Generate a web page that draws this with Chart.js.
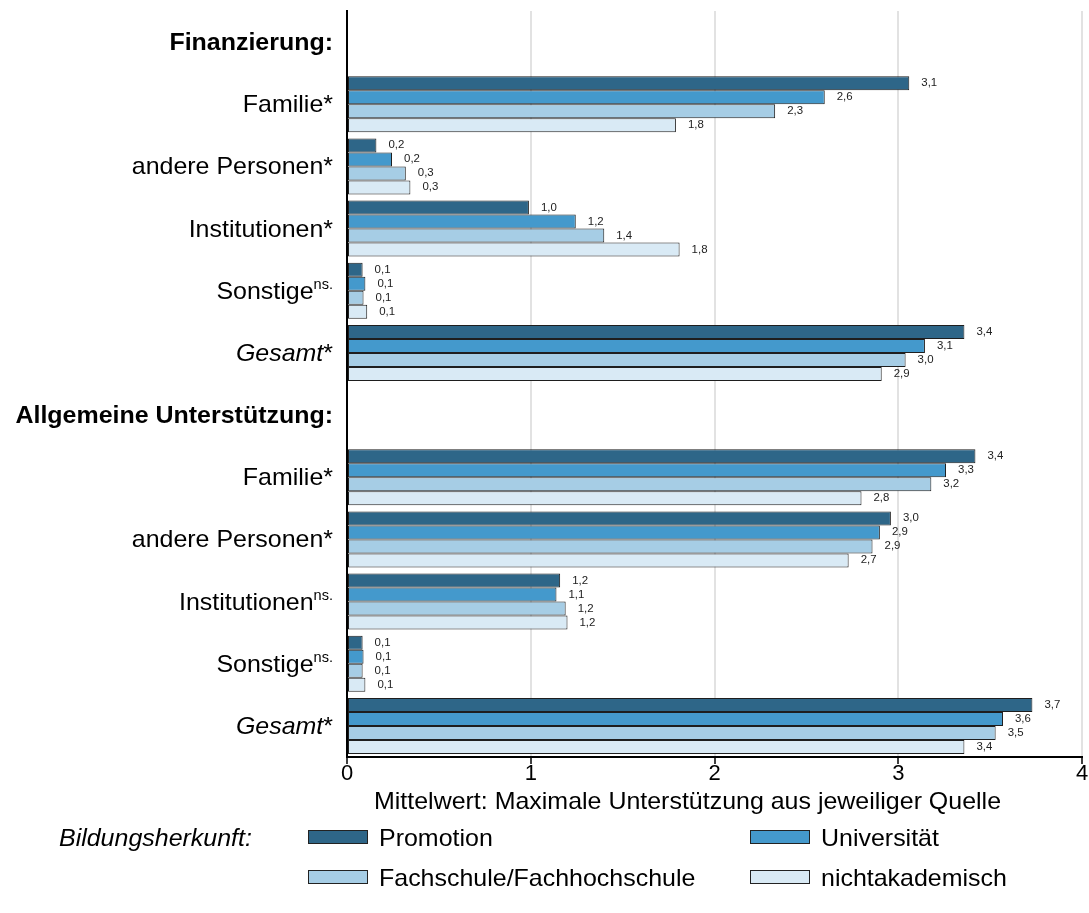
<!DOCTYPE html>
<html>
<head>
<meta charset="utf-8">
<script src="https://cdn.jsdelivr.net/npm/chart.js@4/dist/chart.umd.min.js"></script>
<style>
  body { margin: 0; background: #fff; }
</style>
</head>
<body>
<canvas id="chrt" width="1089" height="913"></canvas>
<script>
// categories (a trailing ':' = group header, '^' = superscript part)
var categories = ['Finanzierung:', 'Familie*', 'andere Personen*', 'Institutionen*', 'Sonstige^ns.', 'Gesamt*',
                  'Allgemeine Unterstützung:', 'Familie*', 'andere Personen*', 'Institutionen^ns.', 'Sonstige^ns.', 'Gesamt*'];

var seriesNames = ['Promotion', 'Universität', 'Fachschule/Fachhochschule', 'nichtakademisch'];

var promotion    = [null, 3.06, 0.16, 0.99, 0.085, 3.36, null, 3.42, 2.96, 1.16, 0.085, 3.73];
var universitaet = [null, 2.60, 0.245, 1.245, 0.10, 3.145, null, 3.26, 2.90, 1.14, 0.09, 3.57];
var fachschule   = [null, 2.33, 0.32, 1.40, 0.09, 3.04, null, 3.18, 2.86, 1.19, 0.085, 3.53];
var nichtakad    = [null, 1.79, 0.345, 1.81, 0.11, 2.91, null, 2.80, 2.73, 1.20, 0.10, 3.36];

var xTicks = [0, 1, 2, 3, 4];

var colors = ['#2e6688', '#4499cc', '#a6cde5', '#d9eaf5'];

var SX = 1.04; // text in the picture is a little wider than normal
var FONT = '"Liberation Sans", Arial, sans-serif';

function stretchText(ctx, txt, x, y) {
    ctx.save();
    ctx.translate(x, y);
    ctx.scale(SX, 1);
    ctx.fillText(txt, 0, 0);
    ctx.restore();
}

// y labels, value labels, axis title and legend
var drawExtras = {
    id: 'drawExtras',
    afterDatasetsDraw: function(chart) {
        var ctx = chart.ctx;
        var yScale = chart.scales.y;
        ctx.save();
        ctx.fillStyle = '#000';
        ctx.textBaseline = 'alphabetic';

        // category labels
        for (var i = 0; i < categories.length; i++) {
            var lab = categories[i];
            var y = yScale.getPixelForValue(i) + 8;
            var parts = [];
            if (lab.slice(-1) == ':') {
                parts.push({t: lab, f: 'bold 24px ' + FONT, dy: 0});
            } else if (lab.indexOf('^') >= 0) {
                var p = lab.split('^');
                parts.push({t: p[0], f: '24px ' + FONT, dy: 0});
                parts.push({t: p[1], f: '14px ' + FONT, dy: -10});
            } else if (lab.indexOf('Gesamt') == 0) {
                parts.push({t: 'Gesamt', f: 'italic 24px ' + FONT, dy: 0});
                parts.push({t: '*', f: '24px ' + FONT, dy: 0});
            } else {
                parts.push({t: lab, f: '24px ' + FONT, dy: 0});
            }
            var w = 0;
            parts.forEach(function(pt) { ctx.font = pt.f; pt.w = ctx.measureText(pt.t).width * SX; w += pt.w; });
            var x = 333 - w;
            parts.forEach(function(pt) {
                ctx.font = pt.f;
                ctx.textAlign = 'left';
                stretchText(ctx, pt.t, x, y + pt.dy);
                x += pt.w;
            });
        }

        // value labels right of bars
        ctx.font = '11px ' + FONT;
        ctx.fillStyle = '#222';
        ctx.textBaseline = 'middle';
        ctx.textAlign = 'left';
        chart.data.datasets.forEach(function(ds, k) {
            var meta = chart.getDatasetMeta(k);
            meta.data.forEach(function(el, j) {
                var v = ds.data[j];
                if (v === null) return;
                stretchText(ctx, v.toFixed(1).replace('.', ','), el.x + 12, el.y);
            });
        });

        // x axis title
        ctx.fillStyle = '#000';
        ctx.font = '24px ' + FONT;
        ctx.textBaseline = 'alphabetic';
        stretchText(ctx, 'Mittelwert: Maximale Unterstützung aus jeweiliger Quelle', 374, 809);

        // legend
        ctx.font = 'italic 24px ' + FONT;
        stretchText(ctx, 'Bildungsherkunft:', 59, 846);
        var cols = [308, 750], rows = [830, 870];
        chart.data.datasets.forEach(function(ds, k) {
            var bx = cols[k % 2], by = rows[Math.floor(k / 2)];
            ctx.fillStyle = ds.backgroundColor;
            ctx.fillRect(bx, by, 60, 14);
            ctx.strokeStyle = '#222';
            ctx.lineWidth = 1;
            ctx.strokeRect(bx + 0.5, by + 0.5, 59, 13);
            ctx.fillStyle = '#000';
            ctx.font = '24px ' + FONT;
            stretchText(ctx, ds.label, bx + 71, by + 16);
        });
        ctx.restore();
    }
};

var allData = [promotion, universitaet, fachschule, nichtakad];
var datasets = [];
for (var s = 0; s < seriesNames.length; s++) {
    datasets.push({
        label: seriesNames[s],
        data: allData[s],
        backgroundColor: colors[s],
        borderColor: '#1e1e1e',
        borderWidth: 1,
        borderSkipped: false,
        categoryPercentage: 0.9,
        barPercentage: 1.0
    });
}

var ctx = document.getElementById('chrt').getContext('2d');
var myChart = new Chart(ctx, {
    type: 'bar',
    data: { labels: categories, datasets: datasets },
    options: {
        indexAxis: 'y',
        responsive: false,
        animation: false,
        devicePixelRatio: 1,
        layout: { padding: { top: 11, right: 7, left: 0, bottom: 0 } },
        plugins: { legend: { display: false }, tooltip: { enabled: false } },
        scales: {
            x: {
                min: 0,
                max: 4,
                afterFit: function(scale) { scale.height = 156; },
                afterBuildTicks: function(scale) { scale.ticks = xTicks.map(function(v) { return {value: v}; }); },
                ticks: { color: '#000', font: { family: FONT, size: 22 }, padding: -3, maxRotation: 0 },
                grid: {
                    color: function(c) { return c.tick && c.tick.value === 0 ? 'rgba(0,0,0,0)' : '#e2e2e2'; },
                    lineWidth: 2,
                    tickColor: '#000',
                    tickLength: 7,
                    tickWidth: 1.5
                },
                border: { display: true, color: '#000', width: 2 }
            },
            y: {
                afterFit: function(scale) { scale.width = 347; },
                ticks: { display: false },
                grid: { display: false },
                border: { display: true, color: '#000', width: 2 }
            }
        }
    },
    plugins: [drawExtras]
});
</script>
</body>
</html>
